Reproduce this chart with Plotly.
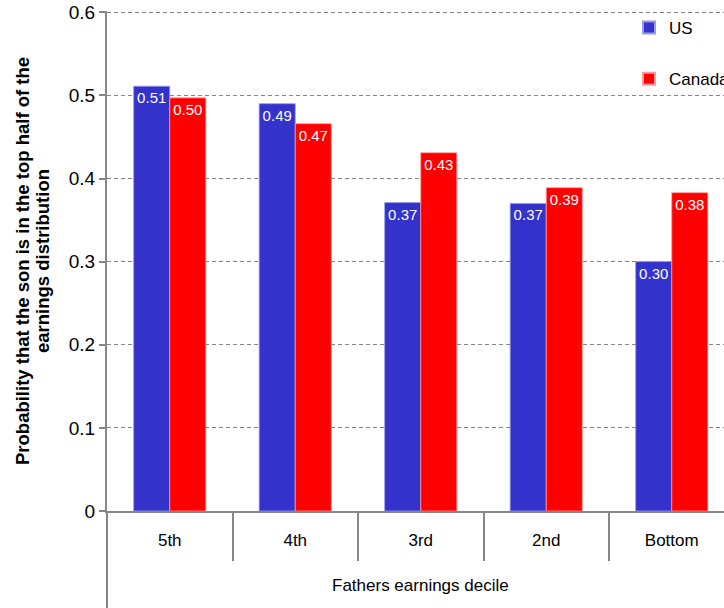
import plotly.graph_objects as go

categories = ["5th", "4th", "3rd", "2nd", "Bottom"]
us_values = [0.511, 0.490, 0.371, 0.370, 0.300]
canada_values = [0.497, 0.466, 0.431, 0.389, 0.383]
us_labels = ["0.51", "0.49", "0.37", "0.37", "0.30"]
canada_labels = ["0.50", "0.47", "0.43", "0.39", "0.38"]
y_ticks = [0, 0.1, 0.2, 0.3, 0.4, 0.5, 0.6]
y_ticklabels = ["0", "0.1", "0.2", "0.3", "0.4", "0.5", "0.6"]

FONT = "Liberation Sans, Arial, sans-serif"
AXIS_GREY = "#868686"

W, H = 724, 608
ML, MR, MT, MB = 107, 0, 11, 97
plot_w = W - ML - MR
plot_h = H - MT - MB
cat_px = 125.5  # width of one category in px
x_right = -0.5 + plot_w / cat_px


def px_to_paper_y(py):
    return 1 - (py - MT) / plot_h


def px_to_paper_x(px):
    return (px - ML) / plot_w


fig = go.Figure()
fig.add_trace(go.Bar(
    name="US", x=categories, y=us_values, text=us_labels,
    textposition="inside", insidetextanchor="end",
    textfont=dict(color="white", size=15, family=FONT),
    marker=dict(color="#3333CC", line=dict(color="#9a9ae6", width=0.8)),
    legendgroup="us", hoverinfo="x+y",
))
fig.add_trace(go.Bar(
    name="Canada", x=categories, y=canada_values, text=canada_labels,
    textposition="inside", insidetextanchor="end",
    textfont=dict(color="white", size=15, family=FONT),
    marker=dict(color="#FF0000", line=dict(color="#ff9a9a", width=0.8)),
    legendgroup="ca", hoverinfo="x+y",
))

fig.update_layout(
    width=W, height=H,
    margin=dict(l=ML, r=MR, t=MT, b=MB, autoexpand=False),
    plot_bgcolor="white", paper_bgcolor="white",
    barmode="group", bargap=0.425, bargroupgap=0,
    font=dict(family=FONT, size=18, color="black"),
    showlegend=True,
    legend=dict(
        x=px_to_paper_x(629), y=px_to_paper_y(10), xanchor="left", yanchor="top",
        xref="paper", yref="paper", traceorder="grouped",
        bgcolor="rgba(0,0,0,0)", font=dict(size=17, family=FONT),
        tracegroupgap=26, itemsizing="constant",
    ),
    xaxis=dict(
        range=[-0.5, x_right], showgrid=False, zeroline=False,
        showline=True, linecolor=AXIS_GREY, linewidth=2,
        ticks="outside", tickson="boundaries", ticklen=48, tickcolor=AXIS_GREY, tickwidth=1.5,
        ticklabelstandoff=13, tickfont=dict(size=17, family=FONT),
        fixedrange=True,
    ),
    yaxis=dict(
        range=[0, 0.6015], tickvals=y_ticks, ticktext=y_ticklabels,
        showgrid=True, gridcolor=AXIS_GREY, griddash="4px,3px", gridwidth=1,
        zeroline=False, showline=True, linecolor=AXIS_GREY, linewidth=2,
        ticks="outside", ticklen=6, tickcolor=AXIS_GREY, tickwidth=1.5,
        ticklabeloverflow="allow",
        tickfont=dict(size=19, family=FONT), fixedrange=True,
    ),
    annotations=[
        dict(text="Probability that the son is in the top half of the",
             xref="paper", yref="paper", x=px_to_paper_x(22), y=px_to_paper_y(261),
             textangle=-90, showarrow=False, xanchor="center", yanchor="middle",
             font=dict(size=18.5, family=FONT, color="black", weight="bold")),
        dict(text="earnings distribution",
             xref="paper", yref="paper", x=px_to_paper_x(42), y=px_to_paper_y(261),
             textangle=-90, showarrow=False, xanchor="center", yanchor="middle",
             font=dict(size=18.5, family=FONT, color="black", weight="bold")),
        dict(text="Fathers earnings decile", xref="x", yref="paper",
             x=2, y=px_to_paper_y(585), showarrow=False,
             xanchor="center", yanchor="middle",
             font=dict(size=17, family=FONT, color="black")),
    ],
    shapes=[
        dict(type="line", xref="paper", yref="paper", x0=0, x1=0, y0=0, y1=-MB / plot_h,
             line=dict(color=AXIS_GREY, width=2)),
    ],
)

fig.write_html("out.html", config={"displayModeBar": False},
               post_script="document.body.style.margin='0';document.body.style.overflow='hidden';")
